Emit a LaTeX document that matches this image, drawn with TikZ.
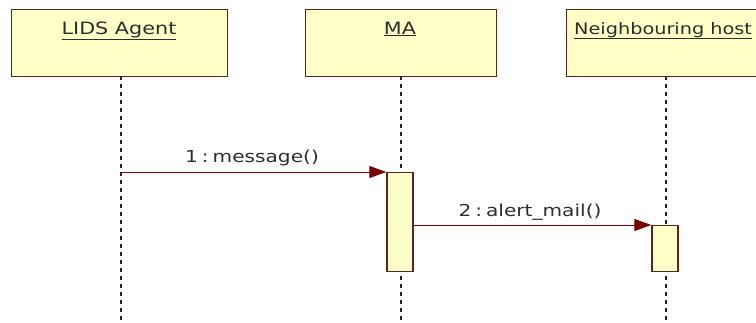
\documentclass[tikz,border=0pt]{standalone}
\usepackage{fontspec}
\setmainfont{DejaVu Sans}
\newfontfamily\widefont[FakeStretch=1.22]{DejaVu Sans}
\usetikzlibrary{arrows.meta}
\definecolor{boxfill}{RGB}{255,255,200}
\definecolor{boxline}{RGB}{85,40,25}
\definecolor{msgred}{RGB}{120,0,0}
\definecolor{txtcol}{RGB}{45,45,45}
\newcommand{\colsep}{\hspace{4pt}:\hspace{4pt}}
\begin{document}
\begin{tikzpicture}[x=1pt,y=-1pt,
  objbox/.style={draw=boxline,fill=boxfill,line width=1.4pt,minimum width=#1,minimum height=67,inner sep=0,anchor=north west},
  actbox/.style={draw=boxline,fill=boxfill,line width=1.4pt,minimum width=26,minimum height=#1,inner sep=0,anchor=north},
  hdr/.style={text=txtcol,font=\widefont\fontsize{17}{19}\selectfont,anchor=base,inner sep=0},
  mlbl/.style={text=txtcol,font=\widefont\fontsize{16.5}{19}\selectfont,anchor=base,inner sep=0},
  lifeline/.style={draw=black!85,line width=1.6pt,dash pattern=on 4pt off 4pt},
  msg/.style={draw=msgred,line width=1pt,-{Triangle[length=17pt,width=12pt]}}]
\useasboundingbox (0,0) rectangle (756,322);
\clip (0,0) rectangle (756,322);
% lifelines
\coordinate (l1top) at (121,76);
\coordinate (l1bot) at (121,322);
\coordinate (l2top) at (401,76);
\coordinate (l2bot) at (401,322);
\coordinate (l3top) at (666,76);
\coordinate (l3bot) at (666,322);
\draw[lifeline] (l1top) -- (l1bot);
\draw[lifeline] (l2top) -- (l2bot);
\draw[lifeline] (l3top) -- (l3bot);
% object boxes
\node[objbox=216] (lidsbox) at (11,9) {};
\node[objbox=191] (mabox) at (305,9) {};
\node[objbox=210] (nhbox) at (566,9) {};
\node[hdr] (lidstxt) at (119,34) {\underline{LIDS Agent}};
\node[hdr] (matxt) at (400,34) {\underline{MA}};
\node[hdr,anchor=base west,font=\widefont\fontsize{15.8}{18}\selectfont] (nhtxt) at (574,34) {\underline{Neighbouring host}};
% activations
\node[actbox=99] (act1) at (400,172) {};
\node[actbox=46] (act2) at (665,225) {};
% messages
\coordinate (m1start) at (121,172);
\draw[msg] (m1start) -- (act1.north west);
\node[mlbl] (m1lbl) at (252,162) {1\colsep message()};
\coordinate (m2start) at (act1.east |- 0,225);
\draw[msg] (m2start) -- (act2.north west);
\node[mlbl] (m2lbl) at (530,216) {2\colsep alert\_mail()};
\end{tikzpicture}
\end{document}
